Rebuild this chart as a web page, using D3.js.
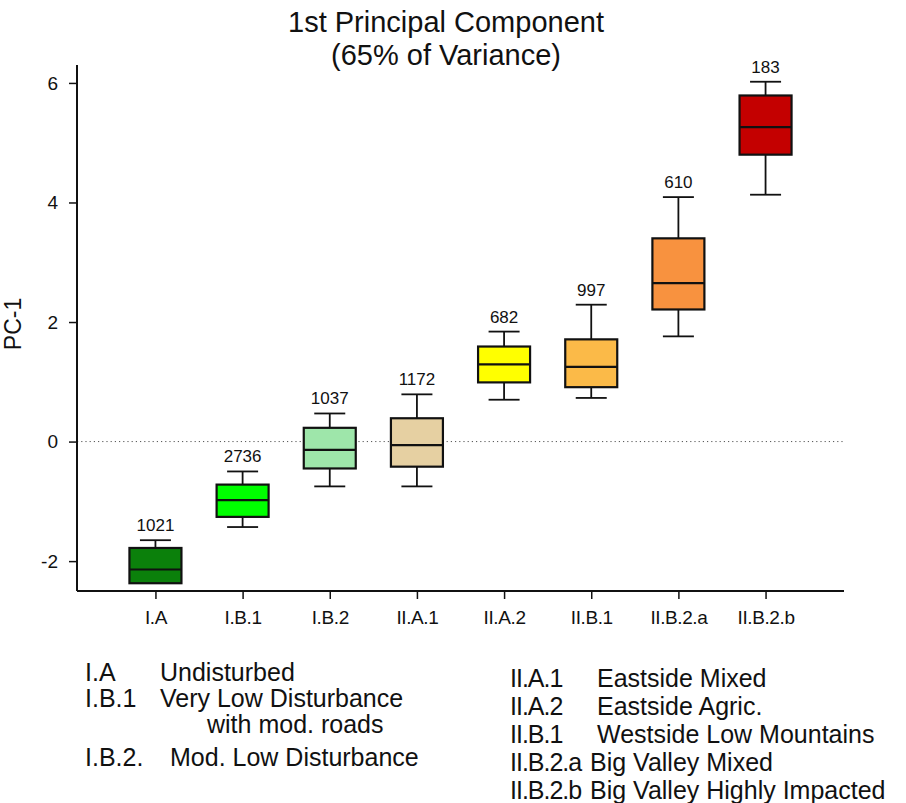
<!DOCTYPE html>
<html>
<head>
<meta charset="utf-8">
<script src="https://cdn.jsdelivr.net/npm/d3@7"></script>
<style>
  html, body { margin: 0; padding: 0; background: #fff; }
  svg { display: block; font-family: Arial, "Liberation Sans", Helvetica, sans-serif; }
</style>
</head>
<body>
<svg id="chart" width="906" height="803"></svg>
<script>
// Region classes along the x axis
const categories = ["I.A", "I.B.1", "I.B.2", "II.A.1", "II.A.2", "II.B.1", "II.B.2.a", "II.B.2.b"];
// Sample counts shown above each box
const counts = [1021, 2736, 1037, 1172, 682, 997, 610, 183];
// Box statistics of PC-1 per class
const whiskerHigh = [-1.65, -0.50, 0.47, 0.79, 1.84, 2.29, 4.09, 6.02];
const q3 =          [-1.78, -0.72, 0.23, 0.39, 1.59, 1.71, 3.40, 5.79];
const median =      [-2.14, -0.98, -0.14, -0.06, 1.29, 1.25, 2.65, 5.26];
const q1 =          [-2.37, -1.26, -0.45, -0.42, 0.99, 0.91, 2.21, 4.80];
// the lowest class's lower whisker falls below the axis range and is not drawn
const whiskerLow =  [null, -1.43, -0.75, -0.75, 0.70, 0.73, 1.76, 4.13];
const boxColors = ["#0b800b", "#00ff00", "#9ee6aa", "#e6d0a2", "#ffff00", "#fbba48", "#f8923f", "#c40000"];
const yTicks = [-2, 0, 2, 4, 6];
const legendLeft = [
  ["I.A", "Undisturbed"],
  ["I.B.1", "Very Low Disturbance"],
  ["", "with mod. roads"],
  ["I.B.2.", "Mod. Low Disturbance"]
];
const legendRight = [
  ["II.A.1", "Eastside Mixed"],
  ["II.A.2", "Eastside Agric."],
  ["II.B.1", "Westside Low Mountains"],
  ["II.B.2.a", "Big Valley Mixed"],
  ["II.B.2.b", "Big Valley Highly Impacted"]
];

const svg = d3.select("#chart");
const plotLeft = 77, plotRight = 844, plotTop = 65, plotBottom = 591;

const x = d3.scalePoint().domain(categories).range([plotLeft, plotRight]).padding(0.9);
const y = d3.scaleLinear().domain([-2.5, 6.3]).range([plotBottom, plotTop]);

const boxW = 52, capW = 31;

// Title
const title = svg.append("text")
  .attr("x", 446).attr("text-anchor", "middle")
  .style("font-size", "29px").attr("fill", "#111");
title.append("tspan").attr("x", 446).attr("y", 32).text("1st Principal Component");
title.append("tspan").attr("x", 446).attr("y", 65).text("(65% of Variance)");

// Zero reference line
svg.append("line")
  .attr("x1", plotLeft).attr("x2", plotRight)
  .attr("y1", y(0)).attr("y2", y(0))
  .attr("stroke", "#555").attr("stroke-width", 1)
  .attr("stroke-dasharray", "1.2,3");

// Axes
const yAxis = svg.append("g")
  .attr("transform", `translate(${plotLeft},0)`)
  .call(d3.axisLeft(y).tickValues(yTicks).tickSize(8).tickPadding(11).tickFormat(d => String(d)));
const xAxis = svg.append("g")
  .attr("transform", `translate(0,${plotBottom})`)
  .call(d3.axisBottom(x).tickSize(8).tickPadding(12));

[yAxis, xAxis].forEach(g => {
  g.select(".domain").attr("stroke", "#111").attr("stroke-width", 2);
  g.selectAll(".tick line").attr("stroke", "#111").attr("stroke-width", 1.5);
  g.selectAll(".tick text").attr("fill", "#111").style("font-family", "Arial, 'Liberation Sans', sans-serif");
});
yAxis.select(".domain").attr("d", `M0,${plotTop}V${plotBottom}`);
xAxis.select(".domain").attr("d", `M${plotLeft},0H${plotRight}`);
yAxis.selectAll(".tick text").style("font-size", "19px");
xAxis.selectAll(".tick text").style("font-size", "19px").style("letter-spacing", "-0.4px");

// Y axis title
svg.append("text")
  .attr("transform", `translate(21,${324}) rotate(-90)`)
  .attr("text-anchor", "middle")
  .style("font-size", "23px").attr("fill", "#111")
  .text("PC-1");

// Boxes
const data = categories.map((c, i) => ({
  c, n: counts[i], hi: whiskerHigh[i], q3: q3[i], med: median[i], q1: q1[i], lo: whiskerLow[i], color: boxColors[i]
}));

const g = svg.append("g").attr("stroke", "#111");
const box = g.selectAll("g.box").data(data).join("g").attr("class", "box")
  .attr("transform", d => `translate(${x(d.c)},0)`);

// upper whisker
box.append("line").attr("x1", 0).attr("x2", 0)
  .attr("y1", d => y(d.hi)).attr("y2", d => y(d.q3)).attr("stroke-width", 1.8);
box.append("line").attr("x1", -capW / 2).attr("x2", capW / 2)
  .attr("y1", d => y(d.hi)).attr("y2", d => y(d.hi)).attr("stroke-width", 1.8);
// lower whisker
box.filter(d => d.lo !== null).append("line").attr("x1", 0).attr("x2", 0)
  .attr("y1", d => y(d.q1)).attr("y2", d => y(d.lo)).attr("stroke-width", 1.8);
box.filter(d => d.lo !== null).append("line").attr("x1", -capW / 2).attr("x2", capW / 2)
  .attr("y1", d => y(d.lo)).attr("y2", d => y(d.lo)).attr("stroke-width", 1.8);
// box body
box.append("rect")
  .attr("x", -boxW / 2).attr("width", boxW)
  .attr("y", d => y(d.q3)).attr("height", d => y(d.q1) - y(d.q3))
  .attr("fill", d => d.color).attr("stroke-width", 2.2);
// median
box.append("line").attr("x1", -boxW / 2).attr("x2", boxW / 2)
  .attr("y1", d => y(d.med)).attr("y2", d => y(d.med)).attr("stroke-width", 2.2);
// count label
box.append("text")
  .attr("y", d => y(d.hi) - 9)
  .attr("text-anchor", "middle")
  .attr("stroke", "none").attr("fill", "#111")
  .style("font-size", "17px")
  .text(d => d.n);

// Legend
const legL = svg.append("g").style("font-size", "25px").attr("fill", "#111");
const leftRows = [681, 707, 733, 766];
const leftTextX = [160, 160, 207, 170];
legendLeft.forEach((r, i) => {
  legL.append("text").attr("x", 85).attr("y", leftRows[i]).text(r[0]);
  legL.append("text").attr("x", leftTextX[i]).attr("y", leftRows[i]).text(r[1]);
});
const legR = svg.append("g").style("font-size", "25px").attr("fill", "#111");
legendRight.forEach((r, i) => {
  const yy = 687 + i * 28;
  legR.append("text").attr("x", 510).attr("y", yy).style("letter-spacing", "-1px").text(r[0]);
  legR.append("text").attr("x", i < 3 ? 597 : 590).attr("y", yy).text(r[1]);
});
</script>
</body>
</html>
